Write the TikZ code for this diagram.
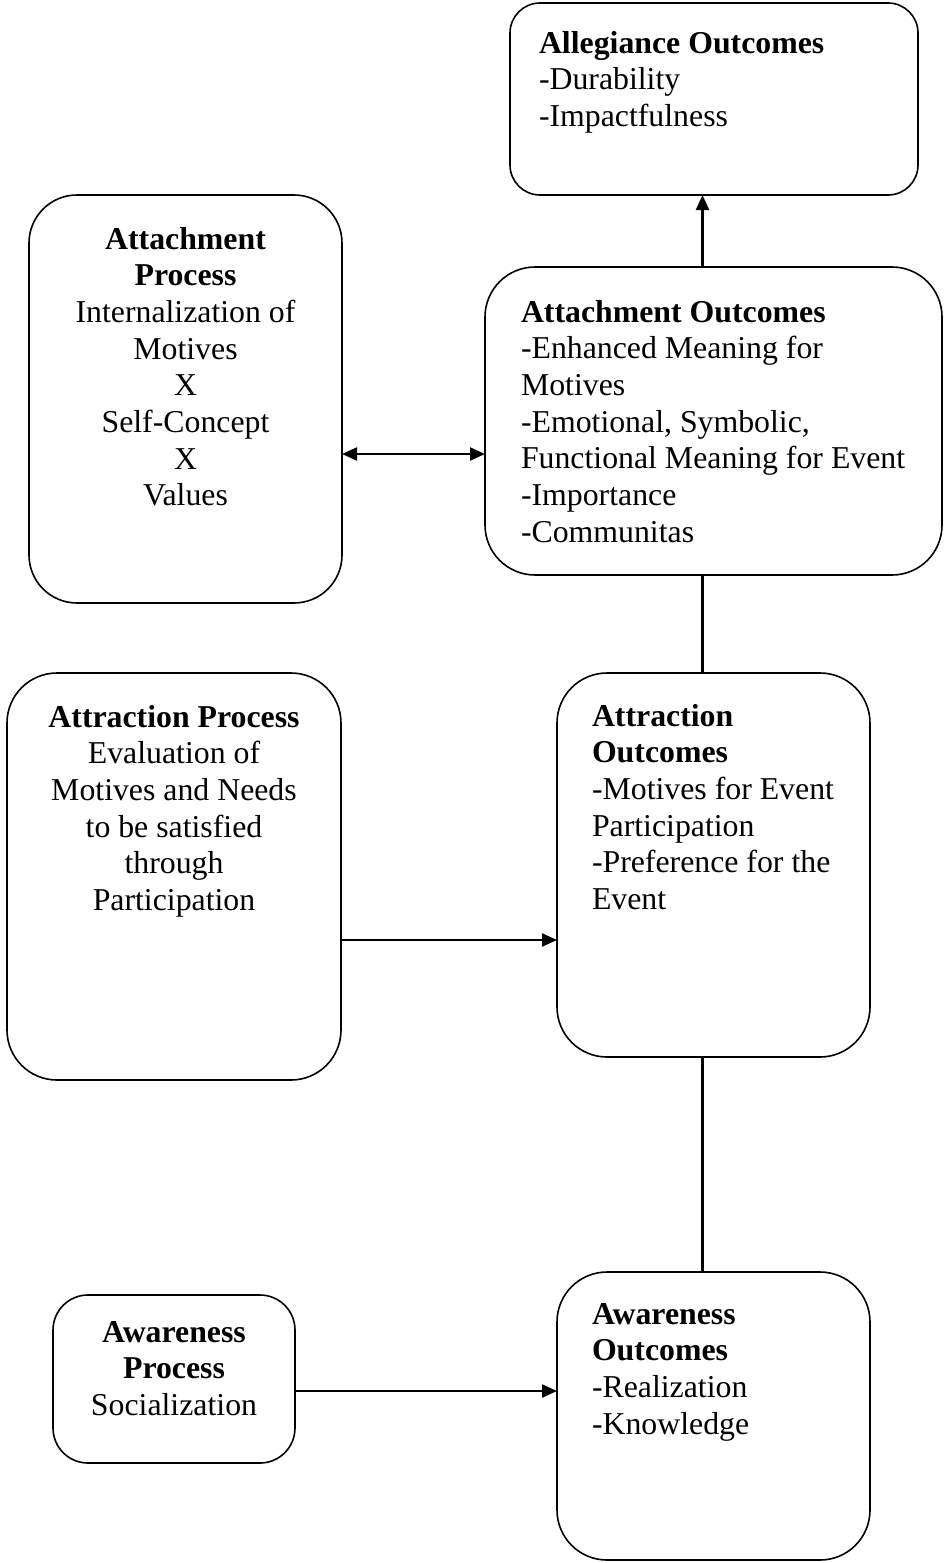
\documentclass[tikz,border=0pt]{standalone}
\usepackage{fontspec}
\setmainfont{Liberation Serif}
\usetikzlibrary{arrows.meta}
\tikzset{
  box/.style={draw=black, line width=1.6pt, rectangle, fill=white, inner sep=0pt, outer sep=0pt},
  txt/.style={inner sep=0pt, outer sep=0pt, font=\fontsize{31.8pt}{36.7pt}\selectfont},
  conn/.style={line width=2.2pt},
  arr/.style={conn, -{Triangle[length=15pt,width=13pt]}},
  darr/.style={conn, {Triangle[length=15pt,width=13pt]}-{Triangle[length=15pt,width=13pt]}}
}
\begin{document}
\begin{tikzpicture}[x=1pt,y=-1pt]
\useasboundingbox[fill=white] (0,0) rectangle (943,1563);

% boxes
\node[box, rounded corners=30pt, minimum width=408pt, minimum height=192pt] (alleg) at (714,99) {};
\node[box, rounded corners=48pt, minimum width=313pt, minimum height=408pt] (attp) at (185.5,399) {};
\node[box, rounded corners=50pt, minimum width=457pt, minimum height=308pt] (atto) at (713.5,421) {};
\node[box, rounded corners=50pt, minimum width=334pt, minimum height=407pt] (trp) at (174,876.5) {};
\node[box, rounded corners=50pt, minimum width=313pt, minimum height=384pt] (tro) at (713.5,865) {};
\node[box, rounded corners=35pt, minimum width=242pt, minimum height=168pt] (awp) at (174,1379) {};
\node[box, rounded corners=50pt, minimum width=313pt, minimum height=288pt] (awo) at (713.5,1416) {};

% texts
\node[txt, anchor=north west, align=left] (allegt) at (539,31)
  {\textbf{Allegiance Outcomes}\\-Durability\\-Impactfulness};
\node[txt, anchor=north, align=center] (attpt) at (185.5,227)
  {\textbf{Attachment}\\\textbf{Process}\\Internalization of\\Motives\\X\\Self-Concept\\X\\Values};
\node[txt, anchor=north west, align=left] (attot) at (521,300)
  {\textbf{Attachment Outcomes}\\-Enhanced Meaning for\\Motives\\-Emotional, Symbolic,\\Functional Meaning for Event\\-Importance\\-Communitas};
\node[txt, anchor=north, align=center] (trpt) at (174,705)
  {\textbf{Attraction Process}\\Evaluation of\\Motives and Needs\\to be satisfied\\through\\Participation};
\node[txt, anchor=north west, align=left] (trot) at (592,704)
  {\textbf{Attraction}\\\textbf{Outcomes}\\-Motives for Event\\Participation\\-Preference for the\\Event};
\node[txt, anchor=north, align=center] (awpt) at (174,1321)
  {\textbf{Awareness}\\\textbf{Process}\\Socialization};
\node[txt, anchor=north west, align=left] (awot) at (592,1303)
  {\textbf{Awareness}\\\textbf{Outcomes}\\-Realization\\-Knowledge};

% helper coordinates
\coordinate (vx) at (702.5,0);
\coordinate (ya) at (0,454);
\coordinate (yb) at (0,940);
\coordinate (yc) at (0,1391);

% connectors
\draw[arr] (vx |- atto.north) -- (vx |- alleg.south);
\draw[darr] (attp.east |- ya) -- (atto.west |- ya);
\draw[conn] (vx |- atto.south) -- (vx |- tro.north);
\draw[arr] (trp.east |- yb) -- (tro.west |- yb);
\draw[conn] (vx |- tro.south) -- (vx |- awo.north);
\draw[arr] (awp.east |- yc) -- (awo.west |- yc);
\end{tikzpicture}
\end{document}
